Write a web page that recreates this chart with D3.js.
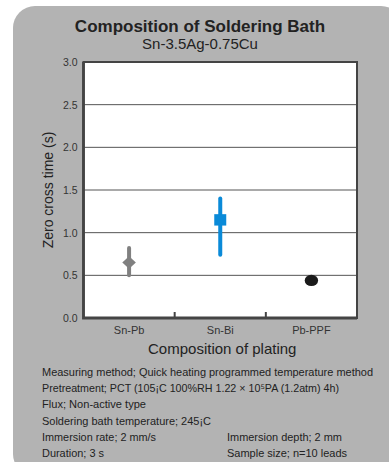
<!DOCTYPE html>
<html>
<head>
<meta charset="utf-8">
<script src="https://cdn.jsdelivr.net/npm/d3@7"></script>
<style>
  body { margin: 0; background: #fff; }
  svg { display: block; font-family: "Liberation Sans", Arial, sans-serif; }
</style>
</head>
<body>
<div id="chart"></div>
<script>
// data
const categories = ["Sn-Pb", "Sn-Bi", "Pb-PPF"];
const means = [0.65, 1.15, 0.44];
const lows = [0.50, 0.74, null];
const highs = [0.82, 1.40, null];
const markers = ["diamond", "square", "circle"];
const colors = ["#808080", "#0a8ad8", "#1a1a1a"];
const yTicks = [0, 0.5, 1.0, 1.5, 2.0, 2.5, 3.0];
const notesLeft = [
  "Measuring method; Quick heating programmed temperature method",
  "Pretreatment; PCT (105¡C 100%RH 1.22 × 10⁵PA (1.2atm) 4h)",
  "Flux; Non-active type",
  "Soldering bath temperature; 245¡C",
  "Immersion rate; 2 mm/s",
  "Duration; 3 s"
];
const notesLeftWidth = [331, 297, 104, 169, 114, 62];
const notesRight = ["Immersion depth; 2 mm", "Sample size; n=10 leads"];
const notesRightWidth = [115, 120];

const W = 389, H = 462;
const plot = {left: 83.5, top: 62, right: 357, bottom: 318};

const svg = d3.select("#chart").append("svg")
  .attr("width", W).attr("height", H);

// gray rounded panel
svg.append("rect")
  .attr("x", 13).attr("y", 6)
  .attr("width", 390).attr("height", 470)
  .attr("rx", 22).attr("ry", 22)
  .attr("fill", "#b3b3b3");

svg.append("text")
  .attr("x", 200).attr("y", 32)
  .attr("text-anchor", "middle")
  .attr("font-size", 17).attr("font-weight", "bold")
  .attr("fill", "#222")
  .text("Composition of Soldering Bath");
svg.append("text")
  .attr("x", 200).attr("y", 49)
  .attr("text-anchor", "middle")
  .attr("font-size", 15)
  .attr("fill", "#222")
  .text("Sn-3.5Ag-0.75Cu");

const x = d3.scaleBand()
  .domain(categories)
  .range([plot.left, plot.right]);
const y = d3.scaleLinear()
  .domain([0, 3])
  .range([plot.bottom, plot.top]);

svg.append("rect")
  .attr("x", plot.left).attr("y", plot.top)
  .attr("width", plot.right - plot.left).attr("height", plot.bottom - plot.top)
  .attr("fill", "#fff");

// grid lines
svg.append("g")
  .selectAll("line")
  .data(yTicks.filter(d => d > 0 && d < 3))
  .enter().append("line")
    .attr("x1", plot.left).attr("x2", plot.right)
    .attr("y1", d => y(d)).attr("y2", d => y(d))
    .attr("stroke", "#555").attr("stroke-width", 1);

// y axis labels
const yAxis = svg.append("g")
  .attr("transform", "translate(" + plot.left + ",0)")
  .call(d3.axisLeft(y).tickValues(yTicks).tickFormat(d3.format(".1f")).tickSize(0).tickPadding(6));
yAxis.select(".domain").remove();
yAxis.selectAll("text")
  .attr("font-size", 10.5).attr("fill", "#333")
  .attr("font-family", "Liberation Sans, Arial, sans-serif");

// x axis labels
const xAxis = svg.append("g")
  .attr("transform", "translate(0," + plot.bottom + ")")
  .call(d3.axisBottom(x).tickSize(0).tickPadding(8));
xAxis.select(".domain").remove();
xAxis.selectAll("text")
  .attr("font-size", 11).attr("fill", "#333")
  .attr("font-family", "Liberation Sans, Arial, sans-serif");

// inner ticks between categories
svg.append("g")
  .selectAll("line")
  .data(categories.slice(1))
  .enter().append("line")
    .attr("x1", d => x(d)).attr("x2", d => x(d))
    .attr("y1", plot.bottom).attr("y2", plot.bottom - 6)
    .attr("stroke", "#444").attr("stroke-width", 2);

// frame, left and bottom a bit heavier
svg.append("rect")
  .attr("x", plot.left).attr("y", plot.top)
  .attr("width", plot.right - plot.left).attr("height", plot.bottom - plot.top)
  .attr("fill", "none").attr("stroke", "#444").attr("stroke-width", 2);
svg.append("path")
  .attr("d", "M" + plot.left + "," + plot.top + "V" + plot.bottom + "H" + plot.right)
  .attr("fill", "none").attr("stroke", "#444").attr("stroke-width", 2.8);

// axis titles
svg.append("text")
  .attr("transform", "translate(53," + ((plot.top + plot.bottom) / 2) + ") rotate(-90)")
  .attr("text-anchor", "middle")
  .attr("font-size", 14).attr("fill", "#222")
  .text("Zero cross time (s)");
svg.append("text")
  .attr("x", (plot.left + plot.right) / 2 + 2).attr("y", 354)
  .attr("text-anchor", "middle")
  .attr("font-size", 15).attr("fill", "#222")
  .text("Composition of plating");

// error bars and markers
const pts = categories.map((c, i) => ({c: c, m: means[i], lo: lows[i], hi: highs[i], shape: markers[i], color: colors[i]}));
const cx = d => x(d.c) + x.bandwidth() / 2;
const marks = svg.append("g");
marks.selectAll("line")
  .data(pts.filter(d => d.lo != null))
  .enter().append("line")
    .attr("x1", cx).attr("x2", cx)
    .attr("y1", d => y(d.lo)).attr("y2", d => y(d.hi))
    .attr("stroke", d => d.color).attr("stroke-width", 4)
    .attr("stroke-linecap", "round");

const shapePath = {
  diamond: "M0,-6.2L6.8,0L0,6.2L-6.8,0Z",
  square: "M-6,-5.7H6V5.7H-6Z",
  circle: "M-6.7,0A6.7,5.6 0 1,0 6.7,0A6.7,5.6 0 1,0 -6.7,0Z"
};
marks.selectAll("path")
  .data(pts)
  .enter().append("path")
    .attr("transform", d => "translate(" + cx(d) + "," + y(d.m) + ")")
    .attr("d", d => shapePath[d.shape])
    .attr("fill", d => d.color);

// measurement notes
const notes = svg.append("g")
  .attr("font-size", 11).attr("fill", "#222");
notes.selectAll("text.left")
  .data(notesLeft)
  .enter().append("text")
    .attr("class", "left")
    .attr("x", 42).attr("y", (d, i) => 376 + i * 16.2)
    .attr("textLength", (d, i) => notesLeftWidth[i])
    .attr("lengthAdjust", "spacingAndGlyphs")
    .text(d => d);
notes.selectAll("text.right")
  .data(notesRight)
  .enter().append("text")
    .attr("class", "right")
    .attr("x", 227).attr("y", (d, i) => 440.8 + i * 16.2)
    .attr("textLength", (d, i) => notesRightWidth[i])
    .attr("lengthAdjust", "spacingAndGlyphs")
    .text(d => d);
</script>
</body>
</html>
